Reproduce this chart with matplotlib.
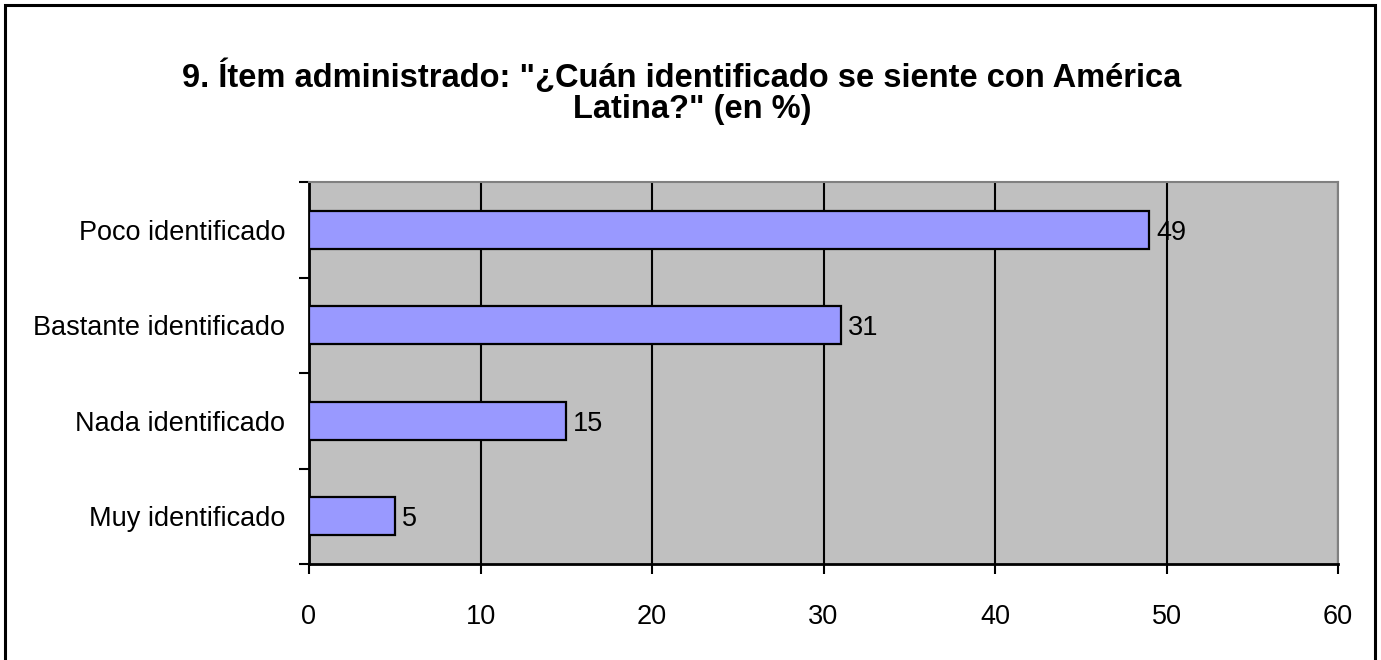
import matplotlib
matplotlib.use('Agg')
import matplotlib.pyplot as plt
from matplotlib.patches import Rectangle

categories = ['Poco identificado', 'Bastante identificado',
              'Nada identificado', 'Muy identificado']
values = [49, 31, 15, 5]
xticks = [0, 10, 20, 30, 40, 50, 60]
title_lines = ['9. Ítem administrado: "¿Cuán identificado se siente con América',
               'Latina?" (en %)']

plt.rcParams['font.family'] = ['Liberation Sans', 'DejaVu Sans']

fig = plt.figure(figsize=(13.81, 6.60), dpi=100)
W, H = 1381, 660

# outer frame of the chart
fig.patches.append(Rectangle((5 / W, -0.05), 1370 / W, 1.05 - 5 / H,
                             transform=fig.transFigure, fill=False,
                             edgecolor='black', linewidth=2.2))

ax = fig.add_axes([309 / W, 96 / H, 1029 / W, 382 / H])
ax.set_facecolor('#C0C0C0')

pos = list(range(len(categories)))[::-1]
ax.barh(pos, values, height=0.4, color='#9999FF', edgecolor='black',
        linewidth=1.6, zorder=3)

for p, v in zip(pos, values):
    ax.text(v + 0.4, p, str(v), va='center_baseline', ha='left',
            fontsize=19.5, zorder=4)

ax.set_xlim(0, 60)
ax.set_ylim(-0.5, len(categories) - 0.5)
ax.set_xticks(xticks)
ax.set_xticklabels([str(t) for t in xticks], fontsize=19.5)
ax.set_yticks(pos)
ax.set_yticklabels(categories, fontsize=19.5)
ax.set_yticks([p - 0.5 for p in range(len(categories) + 1)], minor=True)

ax.tick_params(axis='y', which='major', length=0, pad=17)
ax.tick_params(axis='y', which='minor', length=7, width=1.5, direction='out')
ax.tick_params(axis='x', which='major', length=7, width=1.5, direction='out', pad=22)

ax.grid(True, axis='x', color='black', linewidth=1.5, zorder=1)
ax.set_axisbelow(True)

for s in ('left', 'bottom'):
    ax.spines[s].set_color('black')
    ax.spines[s].set_linewidth(2)
for s in ('top', 'right'):
    ax.spines[s].set_color('#808080')
    ax.spines[s].set_linewidth(1.5)

fig.text(682 / W, 1 - 73 / H, title_lines[0], ha='center', va='center_baseline',
         fontsize=23.5, fontweight='bold')
fig.text(692 / W, 1 - 106 / H, title_lines[1], ha='center', va='center_baseline',
         fontsize=23.5, fontweight='bold')

fig.savefig('out.png', dpi=100)
